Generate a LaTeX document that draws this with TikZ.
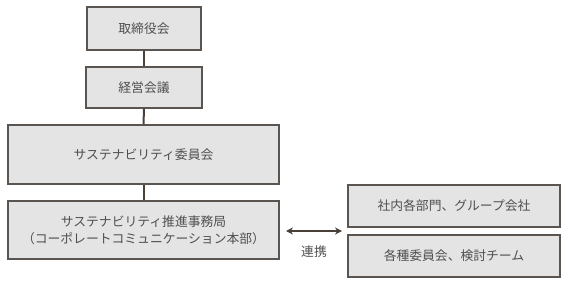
\documentclass[tikz,border=0pt]{standalone}
\usepackage{fontspec}
\setmainfont{Noto Sans CJK JP}
\usetikzlibrary{arrows.meta}
\definecolor{boxfill}{HTML}{E4E4E4}
\definecolor{boxline}{HTML}{5A5550}
\definecolor{txt}{HTML}{4F4F4F}
\definecolor{conn}{HTML}{4A403A}
\begin{document}
\begin{tikzpicture}[x=1pt,y=1pt,
  orgbox/.style={draw=boxline,line width=1.4pt,fill=boxfill,text=txt,font=\fontsize{12.8}{17}\selectfont,align=center,inner sep=0pt},
  link/.style={draw=conn,line width=2pt}]
\useasboundingbox (0,0) rectangle (568,287);
\node[orgbox,minimum width=114pt,minimum height=43pt] (b1) at (144,258.5) {取締役会};
\node[orgbox,minimum width=116pt,minimum height=41pt] (b2) at (144,199.5) {経営会議};
\node[orgbox,minimum width=271pt,minimum height=59pt] (b3) at (143.5,132.5) {サステナビリティ委員会};
\node[orgbox,minimum width=271pt,minimum height=58pt] (b4) at (143.5,57) {サステナビリティ推進事務局\\（コーポレートコミュニケーション本部）};
\node[orgbox,minimum width=212pt,minimum height=42pt] (b5) at (454,81) {社内各部門、グループ会社};
\node[orgbox,minimum width=212pt,minimum height=42pt] (b6) at (454,31) {各種委員会、検討チーム};
\draw[link] (b1.south) -- (b2.north);
\draw[link] (b2.south) -- (b3.north);
\draw[link] (b3.south) -- (b4.north);
\coordinate (la) at (286,56);
\coordinate (lb) at (342,56);
\draw[draw=conn,line width=1.4pt,{Stealth[length=7pt,width=7pt]}-{Stealth[length=7pt,width=7pt]}] (la) -- (lb);
\node[text=txt,font=\fontsize{12.8}{15}\selectfont,inner sep=0pt] (lbl) at (314,35) {連携};
\end{tikzpicture}
\end{document}
